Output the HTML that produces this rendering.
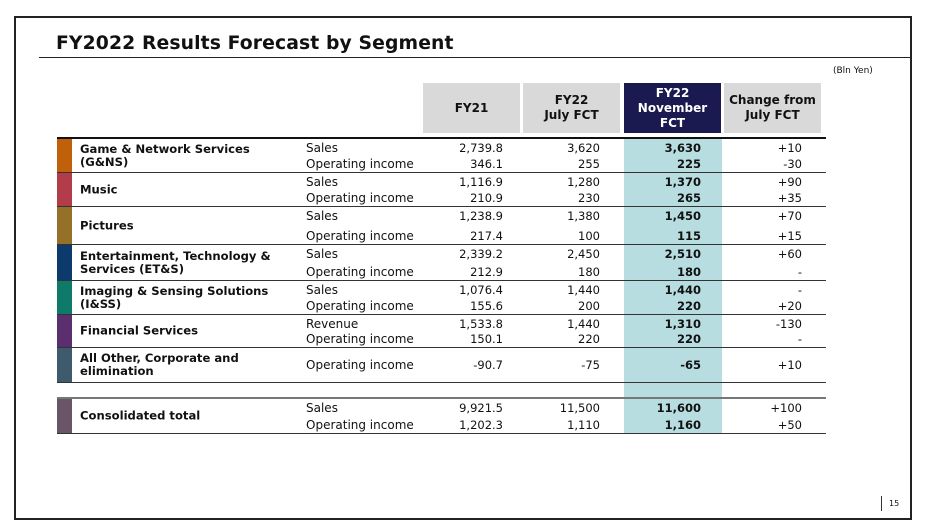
<!DOCTYPE html>
<html><head><meta charset="utf-8"><style>
body{margin:0;width:926px;height:530px;background:#fff;position:relative;overflow:hidden;font-family:"DejaVu Sans","Liberation Sans",sans-serif;color:#111}
.a{position:absolute;white-space:nowrap}
.hd{position:absolute;background:#d9d9d9;top:83px;height:50px;display:flex;align-items:center;justify-content:center;text-align:center;font-weight:bold;font-size:12px;line-height:15px}
.ln{position:absolute;left:57px;width:769px;height:1px;background:#333}
.v{position:absolute;font-size:11.5px;text-align:right;width:90px;transform:translateY(-50%)}
.m{position:absolute;left:306px;font-size:12px;transform:translateY(-50%)}
.s{position:absolute;left:80px;font-size:11.6px;font-weight:bold;line-height:13px;transform:translateY(-50%)}
</style></head><body>
<div class="a" style="left:14px;top:16px;width:894px;height:500px;border:2px solid #222"></div>
<div class="a" style="left:56px;top:33px;font-size:18.8px;font-weight:bold;letter-spacing:0.1px">FY2022 Results Forecast by Segment</div>
<div class="a" style="left:39px;top:57px;width:872px;height:1px;background:#222"></div>
<div class="a" style="left:833px;top:66px;font-size:9px">(Bln Yen)</div>
<div class="a" style="left:624px;top:138px;width:98px;height:295px;background:#b7dde1"></div>
<div class="hd" style="left:423px;width:97px">FY21</div>
<div class="hd" style="left:523px;width:97px">FY22<br>July FCT</div>
<div class="hd" style="left:624px;width:97px;background:#1b1a50;color:#fff">FY22<br>November<br>FCT</div>
<div class="hd" style="left:724px;width:97px">Change from<br>July FCT</div>
<div class="a" style="left:881px;top:496px;width:1px;height:15px;background:#333"></div>
<div class="a" style="left:889px;top:499px;font-size:8px">15</div>
<div id="tbl"></div>
<script>
const segments=["Game & Network Services<br>(G&NS)","Music","Pictures","Entertainment, Technology &<br>Services (ET&S)","Imaging & Sensing Solutions<br>(I&SS)","Financial Services","All Other, Corporate and<br>elimination","Consolidated total"];
const segColors=["#c0600a","#b33c4a","#957028","#0d3a6c","#0f7a6a","#5b2e70","#3f5a6c","#6a5468"];
const segTop=[139,173,207,245,281,315,348,399];
const segBottom=[172,206,244,280,314,347,382,433];
const metrics=[["Sales","Operating income"],["Sales","Operating income"],["Sales","Operating income"],["Sales","Operating income"],["Sales","Operating income"],["Revenue","Operating income"],["Operating income"],["Sales","Operating income"]];
const fy21=[["2,739.8","346.1"],["1,116.9","210.9"],["1,238.9","217.4"],["2,339.2","212.9"],["1,076.4","155.6"],["1,533.8","150.1"],["-90.7"],["9,921.5","1,202.3"]];
const julyFct=[["3,620","255"],["1,280","230"],["1,380","100"],["2,450","180"],["1,440","200"],["1,440","220"],["-75"],["11,500","1,110"]];
const novFct=[["3,630","225"],["1,370","265"],["1,450","115"],["2,510","180"],["1,440","220"],["1,310","220"],["-65"],["11,600","1,160"]];
const change=[["+10","-30"],["+90","+35"],["+70","+15"],["+60","-"],["-","+20"],["-130","-"],["+10"],["+100","+50"]];
const T=document.getElementById('tbl');
function add(cls,style,html,name){const d=document.createElement('div');d.className=cls;d.style.cssText=style;d.innerHTML=html;


T.appendChild(d);return d;}
segments.forEach((s,i)=>{
 const t=segTop[i],b=segBottom[i],h=b-t;
 add('a',`left:57px;top:${t}px;width:15px;height:${h}px;background:${segColors[i]}`,'','segment-color-bar');
 add('s',`top:${t+h/2}px`,s,'segment-label');
 const n=metrics[i].length;
 metrics[i].forEach((m,j)=>{
  const y=n==1?t+h/2:t+(j==0?9:h-8);
  add('m',`top:${y}px`,m,'metric-label');
  add('v',`left:413px;top:${y}px`,fy21[i][j],'fy21-value');
  add('v',`left:510px;top:${y}px`,julyFct[i][j],'july-fct-value');
  add('v',`left:611px;top:${y}px;font-weight:bold`,novFct[i][j],'november-fct-value');
  add('v',`left:712px;top:${y}px`,change[i][j],'change-value');
 });
 add('ln',`top:${b}px;`,'','row-divider');
});
add('ln','top:137px;height:2px;background:#111','','table-top-rule');
add('ln','top:397px;height:2px;background:#777','','consolidated-top-rule');
</script>
</body></html>
